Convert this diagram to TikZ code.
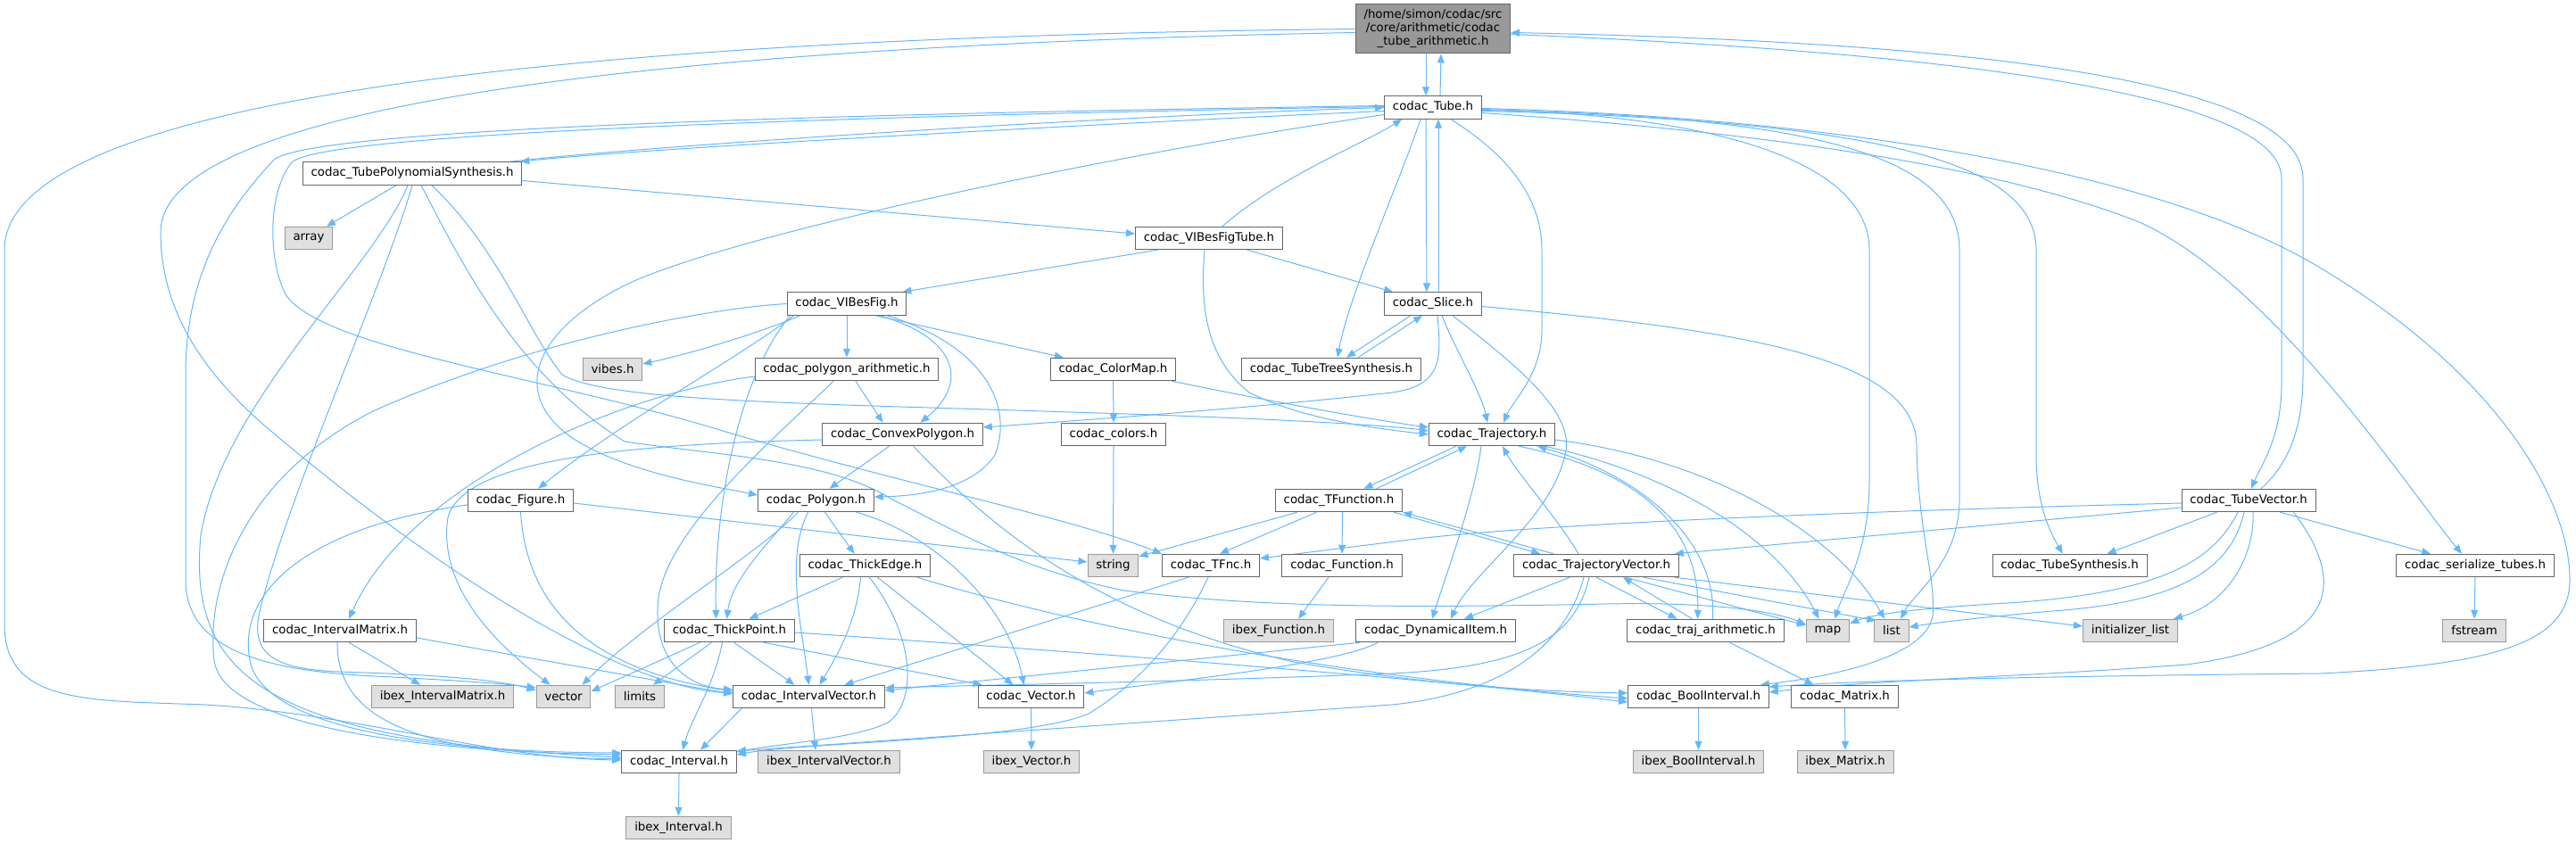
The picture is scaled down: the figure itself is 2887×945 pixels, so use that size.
\documentclass[tikz,border=0pt]{standalone}
\usepackage{fontspec}
\setmainfont{DejaVu Sans}
\usetikzlibrary{calc,arrows.meta}
\definecolor{edgeblue}{HTML}{63B8FF}
\definecolor{nodeborder}{HTML}{666666}
\definecolor{extfill}{HTML}{E0E0E0}
\definecolor{extborder}{HTML}{999999}
\definecolor{mainfill}{HTML}{999999}
\pgfdeclarelayer{background}
\pgfsetlayers{background,main}
\begin{document}
\begin{tikzpicture}[x=0.75pt,y=-0.75pt,
  box/.style={draw=nodeborder,fill=white,line width=0.75pt,minimum height=19.1pt,inner xsep=7pt,inner ysep=2pt,font=\fontsize{10}{12}\selectfont},
  ext/.style={box,draw=extborder,fill=extfill},
  mainbox/.style={draw=nodeborder,fill=mainfill,line width=0.75pt,align=center,minimum width=129.75pt,minimum height=41.25pt,inner sep=2pt,font=\fontsize{10}{11.25}\selectfont},
  e/.style={draw=edgeblue,line width=0.75pt,-{Triangle[length=7.5pt,width=6pt]}}]
\useasboundingbox (0,0) rectangle (2887,945);
\node[mainbox] (M) at (1606,32.5) {/home/simon/codac/src\\/core/arithmetic/codac\\\_tube\_arithmetic.h};
\node[box] (T) at (1606,120.5) {codac\_Tube.h};
\node[box] (TP) at (462,194.5) {codac\_TubePolynomialSynthesis.h};
\node[ext] (arr) at (346,267) {array};
\node[box] (VFT) at (1355,267) {codac\_VIBesFigTube.h};
\node[box] (VF) at (949,340.5) {codac\_VIBesFig.h};
\node[box] (SL) at (1606,340.5) {codac\_Slice.h};
\node[ext] (vib) at (686.5,414) {vibes.h};
\node[box] (PA) at (949,414) {codac\_polygon\_arithmetic.h};
\node[box] (CM) at (1247.5,414) {codac\_ColorMap.h};
\node[box] (TTS) at (1492,414) {codac\_TubeTreeSynthesis.h};
\node[box] (CP) at (1011.5,487) {codac\_ConvexPolygon.h};
\node[box] (COL) at (1248,487) {codac\_colors.h};
\node[box] (TRJ) at (1672,487) {codac\_Trajectory.h};
\node[box] (FIG) at (583.5,561) {codac\_Figure.h};
\node[box] (POL) at (914.5,561) {codac\_Polygon.h};
\node[box] (TF) at (1500.5,561) {codac\_TFunction.h};
\node[box] (TV) at (2520,561) {codac\_TubeVector.h};
\node[box] (TE) at (969.5,634) {codac\_ThickEdge.h};
\node[ext] (str) at (1247.5,634) {string};
\node[box] (TFNC) at (1357,634) {codac\_TFnc.h};
\node[box] (FUN) at (1504,634) {codac\_Function.h};
\node[box] (TRV) at (1789,634) {codac\_TrajectoryVector.h};
\node[box] (TS) at (2319.5,634) {codac\_TubeSynthesis.h};
\node[box] (SER) at (2774,634) {codac\_serialize\_tubes.h};
\node[box] (IM) at (381,707) {codac\_IntervalMatrix.h};
\node[box] (TPT) at (817.5,707) {codac\_ThickPoint.h};
\node[ext] (ibF) at (1433,707) {ibex\_Function.h};
\node[box] (DI) at (1609,707) {codac\_DynamicalItem.h};
\node[box] (TA) at (1911.5,707) {codac\_traj\_arithmetic.h};
\node[ext] (map) at (2048.5,707) {map};
\node[ext] (list) at (2120,707) {list};
\node[ext] (IL) at (2387.5,707) {initializer\_list};
\node[ext] (fst) at (2773,707) {fstream};
\node[ext] (ibIM) at (496,781) {ibex\_IntervalMatrix.h};
\node[ext] (vec) at (631.5,781) {vector};
\node[ext] (lim) at (717,781) {limits};
\node[box] (IV) at (906.5,781) {codac\_IntervalVector.h};
\node[box] (VEC) at (1155.5,781) {codac\_Vector.h};
\node[box] (BI) at (1903.5,781) {codac\_BoolInterval.h};
\node[box] (MAT) at (2067.5,781) {codac\_Matrix.h};
\node[box] (INT) at (761,854) {codac\_Interval.h};
\node[ext] (ibIV) at (929,854) {ibex\_IntervalVector.h};
\node[ext] (ibV) at (1156,854) {ibex\_Vector.h};
\node[ext] (ibBI) at (1903.5,854) {ibex\_BoolInterval.h};
\node[ext] (ibM) at (2068,854) {ibex\_Matrix.h};
\node[ext] (ibI) at (760.5,928) {ibex\_Interval.h};
\begin{pgfonlayer}{background}
% main
\draw[e] ($(M.south)+(-8,0)$) -- ($(T.north)+(-8,0)$);
\draw[e] ($(T.north)+(8,0)$) -- ($(M.south)+(9,0)$);
\draw[e] ($(M.east)+(0,6)$) .. controls (2100,55) and (2557,95) .. (2557,200) -- (2557,430) .. controls (2557,490) and (2535,520) .. ($(TV.north)+(3,0)$);
\draw[e] ($(TV.north)+(14,0)$) .. controls (2565,520) and (2581,480) .. (2581,420) -- (2581,200) .. controls (2581,75) and (2100,45) .. ($(M.east)+(0,4)$);
\draw[e] (M.west) .. controls (800,40) and (5,90) .. (5,280) -- (5,700) .. controls (5,790) and (100,785) .. (230,790) .. controls (400,800) and (550,850) .. ($(INT.west)+(0,-2)$);
\draw[e] ($(M.west)+(0,4)$) .. controls (800,50) and (180,110) .. (180,260) .. controls (180,350) and (230,420) .. (300,480) .. controls (500,650) and (700,770) .. ($(IV.west)+(0,-4)$);
% Tube
\draw[e] ($(T.south)+(-8,0)$) -- ($(SL.north)+(-7,0)$);
\draw[e] ($(SL.north)+(6,0)$) -- ($(T.south)+(6,0)$);
\draw[e] ($(T.west)+(0,4)$) .. controls (1200,140) and (700,168) .. ($(TP.north east)+(-2,0)$);
\draw[e] ($(TP.north east)+(-14,0)$) .. controls (700,166) and (1200,132) .. (T.west);
\draw[e] ($(T.west)+(0,-2)$) .. controls (900,128) and (340,145) .. (306,180) .. controls (260,230) and (208,300) .. (208,420) -- (208,650) .. controls (208,730) and (300,752) .. (420,758) .. controls (500,762) and (560,766) .. ($(vec.north west)+(0,3)$);
\draw[e] ($(T.west)+(0,-1)$) .. controls (900,131) and (360,150) .. (327,182) .. controls (300,215) and (300,290) .. (320,330) .. controls (360,390) and (600,420) .. (800,480) .. controls (1000,540) and (1200,580) .. (TFNC.north west);
\draw[e] ($(T.south)+(-14,0)$) .. controls (1570,200) and (1512,330) .. ($(TTS.north)+(7,0)$);
\draw[e] ($(T.south east)+(-35,0)$) .. controls (1700,180) and (1728,230) .. (1728,280) -- (1728,370) .. controls (1728,420) and (1695,450) .. ($(TRJ.north)+(13,0)$);
\draw[e] ($(T.east)+(0,2)$) .. controls (1950,130) and (2095,190) .. (2095,280) -- (2095,540) .. controls (2095,620) and (2065,665) .. ($(map.north)+(8,0)$);
\draw[e] ($(T.east)+(0,3)$) .. controls (2050,130) and (2196,180) .. (2196,280) -- (2196,560) .. controls (2196,630) and (2145,665) .. ($(list.north)+(10,0)$);
\draw[e] ($(T.east)+(0,4)$) .. controls (2100,135) and (2282,180) .. (2282,280) -- (2282,510) .. controls (2282,570) and (2300,600) .. ($(TS.north)+(-8,0)$);
\draw[e] ($(T.east)+(0,6)$) .. controls (2000,150) and (2250,190) .. (2400,250) .. controls (2550,320) and (2700,550) .. ($(SER.north)+(-15,0)$);
\draw[e] ($(T.east)+(0,1)$) .. controls (2000,130) and (2400,180) .. (2600,300) .. controls (2800,420) and (2880,560) .. (2880,650) .. controls (2880,720) and (2800,745) .. (2600,755) .. controls (2300,758) and (2100,762) .. ($(BI.east)+(0,-11)$);
\draw[e] ($(T.west)+(0,8)$) .. controls (1200,180) and (800,270) .. (700,320) .. controls (600,370) and (570,440) .. (640,490) .. controls (700,530) and (800,545) .. ($(POL.west)+(0,-6)$);
% VIBesFigTube
\draw[e] ($(VFT.north)+(15,0)$) .. controls (1430,200) and (1530,160) .. ($(T.south west)+(20,0)$);
\draw[e] ($(VFT.south west)+(25,0)$) -- ($(VF.north east)+(-5,0)$);
\draw[e] ($(VFT.south east)+(-40,0)$) -- ($(SL.north west)+(10,0)$);
\draw[e] ($(VFT.south)+(-5,0)$) .. controls (1345,340) and (1350,400) .. (1400,440) .. controls (1460,470) and (1540,480) .. (TRJ.west);
% TubePolynomialSynthesis
\draw[e] ($(TP.east)+(0,8)$) -- ($(VFT.west)+(0,-5)$);
\draw[e] ($(TP.south)+(-18,0)$) -- ($(arr.north)+(20,0)$);
\draw[e] ($(TP.south)+(-5,0)$) .. controls (420,300) and (250,450) .. (225,600) .. controls (210,760) and (300,830) .. ($(INT.west)+(0,-5)$);
\draw[e] (TP.south) .. controls (430,320) and (320,560) .. (290,690) .. controls (282,735) and (310,750) .. (380,753) .. controls (470,756) and (550,760) .. ($(vec.north west)+(0,6)$);
\draw[e] ($(TP.south)+(10,0)$) .. controls (520,300) and (580,420) .. (700,495) .. controls (800,510) and (930,515) .. (1000,560) .. controls (1080,600) and (1150,640) .. (1260,662) .. controls (1400,680) and (1550,682) .. (1800,677) .. controls (1900,675) and (1980,682) .. ($(map.west)+(0,-7)$);
\draw[e] ($(TP.south)+(22,0)$) .. controls (560,280) and (590,370) .. (630,420) .. controls (680,450) and (900,452) .. (1200,462) .. controls (1400,468) and (1550,476) .. ($(TRJ.west)+(0,-4)$);
% VIBesFig
\draw[e] ($(VF.south west)+(15,0)$) .. controls (860,370) and (780,395) .. ($(vib.east)+(0,-6)$);
\draw[e] ($(VF.south west)+(8,0)$) .. controls (830,400) and (700,470) .. ($(FIG.north east)+(-40,0)$);
\draw[e] (VF.south) -- (PA.north);
\draw[e] ($(VF.south east)+(-35,0)$) -- ($(CM.north west)+(15,0)$);
\draw[e] ($(VF.south east)+(-30,0)$) .. controls (1075,380) and (1085,430) .. ($(CP.north)+(20,0)$);
\draw[e] ($(VF.south east)+(-22,0)$) .. controls (1110,390) and (1135,460) .. (1115,510) .. controls (1090,548) and (1030,556) .. ($(POL.east)+(0,-4)$);
\draw[e] ($(VF.south west)+(4,0)$) .. controls (830,420) and (800,560) .. ($(TPT.north)+(-15,0)$);
\draw[e] (VF.west) .. controls (800,345) and (600,380) .. (420,460) .. controls (280,530) and (230,650) .. (240,740) .. controls (250,820) and (500,843) .. ($(INT.west)+(0,-8)$);
% polygon arithmetic, ColorMap, colors
\draw[e] ($(PA.south)+(10,0)$) -- ($(CP.north)+(-22,0)$);
\draw[e] ($(PA.west)+(0,8)$) .. controls (700,440) and (460,540) .. ($(IM.north)+(10,0)$);
\draw[e] ($(PA.south)+(-15,0)$) .. controls (870,490) and (750,590) .. (738,670) .. controls (730,740) and (770,770) .. ($(IV.west)+(0,-8)$);
\draw[e] (CM.south) -- (COL.north);
\draw[e] ($(CM.south east)+(-5,0)$) .. controls (1400,445) and (1520,468) .. ($(TRJ.west)+(0,-8)$);
\draw[e] (COL.south) -- (str.north);
% ConvexPolygon, Polygon
\draw[e] ($(CP.south)+(-15,0)$) -- ($(POL.north)+(15,0)$);
\draw[e] ($(CP.west)+(0,6)$) .. controls (700,498) and (520,515) .. (502,580) .. controls (490,660) and (560,725) .. ($(vec.north)+(-15,0)$);
\draw[e] ($(CP.south)+(12,0)$) .. controls (1100,580) and (1220,690) .. (1450,742) .. controls (1600,768) and (1720,775) .. ($(BI.west)+(0,-4)$);
\draw[e] ($(POL.south)+(-25,0)$) .. controls (860,610) and (820,650) .. ($(TPT.north)+(-3,0)$);
\draw[e] ($(POL.south)+(-20,0)$) .. controls (850,620) and (720,700) .. ($(vec.north east)+(-10,0)$);
\draw[e] ($(POL.south)+(-9,0)$) .. controls (880,625) and (898,700) .. (IV.north);
\draw[e] ($(POL.south)+(10,0)$) -- ($(TE.north)+(-12,0)$);
\draw[e] ($(POL.south east)+(-20,0)$) .. controls (1050,600) and (1130,680) .. ($(VEC.north)+(-8,0)$);
% Figure
\draw[e] ($(FIG.east)+(0,3)$) -- ($(str.west)+(0,-4)$);
\draw[e] ($(FIG.west)+(0,5)$) .. controls (350,590) and (265,660) .. (280,740) .. controls (295,820) and (500,843) .. ($(INT.west)+(0,-10)$);
\draw[e] (FIG.south) .. controls (590,680) and (660,750) .. ($(IV.west)+(0,-6)$);
% ThickEdge
\draw[e] ($(TE.south)+(-25,0)$) -- ($(TPT.north)+(22,0)$);
\draw[e] ($(TE.south)+(-5,0)$) .. controls (960,700) and (935,740) .. ($(IV.north)+(12,0)$);
\draw[e] ($(TE.south)+(14,0)$) -- ($(VEC.north)+(-20,0)$);
\draw[e] ($(TE.south)+(5,0)$) .. controls (1030,720) and (1025,790) .. (995,810) .. controls (960,828) and (870,834) .. ($(INT.east)+(0,-11)$);
\draw[e] ($(TE.south east)+(-15,0)$) .. controls (1200,700) and (1500,760) .. ($(BI.west)+(0,2)$);
% ThickPoint
\draw[e] ($(TPT.south)+(-33,0)$) -- ($(vec.east)+(0,-6)$);
\draw[e] ($(TPT.south)+(-20,0)$) -- ($(lim.north)+(15,0)$);
\draw[e] ($(TPT.south)+(-8,0)$) .. controls (800,770) and (775,805) .. ($(INT.north)+(4,0)$);
\draw[e] ($(TPT.south)+(5,0)$) -- ($(IV.north)+(-16,0)$);
\draw[e] ($(TPT.south east)+(-35,0)$) -- ($(VEC.north west)+(5,0)$);
\draw[e] ($(TPT.east)+(0,2)$) .. controls (1200,730) and (1600,760) .. ($(BI.west)+(0,6)$);
% IntervalMatrix
\draw[e] ($(IM.south)+(10,0)$) -- ($(ibIM.north)+(-25,0)$);
\draw[e] ($(IM.south)+(-3,0)$) .. controls (378,800) and (450,845) .. ($(INT.west)+(0,-3)$);
\draw[e] ($(IM.east)+(0,8)$) -- ($(IV.west)+(0,-3)$);
% Slice, TubeTreeSynthesis
\draw[e] ($(SL.south)+(10,0)$) .. controls (1630,390) and (1660,440) .. ($(TRJ.north)+(-5,0)$);
\draw[e] ($(SL.south)+(-25,0)$) -- ($(TTS.north)+(17,0)$);
\draw[e] ($(TTS.north)+(30,0)$) -- ($(SL.south)+(-12,0)$);
\draw[e] ($(SL.south)+(22,0)$) .. controls (1700,410) and (1762,460) .. (1755,505) .. controls (1742,580) and (1650,640) .. ($(DI.north)+(17,0)$);
\draw[e] ($(SL.east)+(0,3)$) .. controls (1950,370) and (2148,400) .. (2148,500) .. controls (2150,600) and (2170,650) .. (2166,690) .. controls (2160,730) and (2080,755) .. ($(BI.north east)+(-10,0)$);
\draw[e] ($(SL.south)+(5,0)$) .. controls (1615,400) and (1618,432) .. (1560,440) .. controls (1400,458) and (1200,472) .. ($(CP.east)+(0,-8)$);
% Trajectory, TFunction
\draw[e] ($(TRJ.south)+(-40,0)$) -- ($(TF.north)+(28,0)$);
\draw[e] ($(TF.north)+(42,0)$) -- ($(TRJ.south)+(-28,0)$);
\draw[e] ($(TRJ.south)+(-12,0)$) .. controls (1652,560) and (1622,640) .. ($(DI.north)+(-4,0)$);
\draw[e] ($(TRJ.south)+(30,0)$) .. controls (1850,530) and (1905,600) .. ($(TA.north)+(-9,0)$);
\draw[e] ($(TA.north)+(8,0)$) .. controls (1925,600) and (1830,530) .. ($(TRJ.south east)+(-20,0)$);
\draw[e] ($(TRJ.south east)+(-12,0)$) .. controls (1870,530) and (1990,600) .. ($(map.north)+(-10,0)$);
\draw[e] ($(TRJ.east)+(0,6)$) .. controls (1920,515) and (2060,600) .. ($(list.north)+(-8,0)$);
\draw[e] ($(TF.south west)+(25,0)$) -- ($(str.north east)+(0,3)$);
\draw[e] ($(TF.south)+(-25,0)$) -- ($(TFNC.north)+(10,0)$);
\draw[e] ($(TF.south)+(4,0)$) -- (FUN.north);
\draw[e] ($(TF.south east)+(-10,0)$) -- ($(TRV.north west)+(30,0)$);
% TrajectoryVector
\draw[e] ($(TRV.north)+(-20,0)$) .. controls (1745,580) and (1700,530) .. ($(TRJ.south)+(12,0)$);
\draw[e] ($(TRV.north west)+(45,0)$) -- (TF.south east);
\draw[e] ($(TRV.south)+(-30,0)$) -- ($(DI.north)+(32,0)$);
\draw[e] (TRV.south) -- ($(TA.north)+(-32,0)$);
\draw[e] ($(TA.north)+(-15,0)$) -- ($(TRV.south)+(30,0)$);
\draw[e] ($(TRV.south east)+(-60,0)$) -- ($(map.west)+(0,-6)$);
\draw[e] ($(TRV.south east)+(-40,0)$) -- ($(list.north west)+(2,2)$);
\draw[e] ($(TRV.south east)+(-5,0)$) -- ($(IL.west)+(0,-5)$);
\draw[e] ($(TRV.south)+(-8,0)$) .. controls (1765,720) and (1700,748) .. (1560,755) .. controls (1300,765) and (1100,768) .. ($(IV.east)+(0,-10)$);
\draw[e] ($(TRV.south)+(-14,0)$) .. controls (1750,740) and (1660,780) .. (1560,790) -- ($(INT.east)+(0,-12)$);
% DynamicalItem, TFnc, Function
\draw[e] ($(DI.south west)+(5,0)$) -- ($(IV.east)+(0,-7)$);
\draw[e] ($(DI.south west)+(25,0)$) .. controls (1500,745) and (1300,765) .. ($(VEC.east)+(0,-4)$);
\draw[e] ($(TFNC.south west)+(30,0)$) -- ($(IV.north)+(40,0)$);
\draw[e] ($(TFNC.south)+(-3,0)$) .. controls (1320,720) and (1270,770) .. (1220,800) .. controls (1150,830) and (900,832) .. ($(INT.east)+(0,-8)$);
\draw[e] ($(FUN.south)+(-15,0)$) -- ($(ibF.north)+(22,0)$);
% lower rows
\draw[e] ($(IV.south west)+(10,0)$) -- ($(INT.north)+(24,0)$);
\draw[e] ($(IV.south)+(3,0)$) -- ($(ibIV.north)+(-15,0)$);
\draw[e] (VEC.south) -- (ibV.north);
\draw[e] (INT.south) -- (ibI.north);
\draw[e] (BI.south) -- (ibBI.north);
\draw[e] (MAT.south) -- (ibM.north);
\draw[e] ($(TA.south)+(27,0)$) -- ($(MAT.north)+(-35,0)$);
% TubeVector
\draw[e] ($(TV.west)+(0,3)$) .. controls (2000,575) and (1700,590) .. (1580,605) -- ($(TFNC.east)+(0,-8)$);
\draw[e] ($(TV.west)+(0,8)$) -- ($(TRV.north east)+(-5,0)$);
\draw[e] ($(TV.south west)+(40,0)$) -- ($(TS.north)+(42,0)$);
\draw[e] ($(TV.south east)+(-40,0)$) -- ($(SER.north)+(-50,0)$);
\draw[e] ($(TV.south)+(5,0)$) .. controls (2527,620) and (2500,675) .. ($(IL.north east)+(-5,0)$);
\draw[e] ($(TV.south)+(-5,0)$) .. controls (2500,640) and (2440,675) .. (2300,685) .. controls (2220,692) and (2170,698) .. ($(list.east)+(0,-4)$);
\draw[e] ($(TV.south)+(-12,0)$) .. controls (2480,630) and (2420,665) .. (2250,676) .. controls (2150,682) and (2100,688) .. ($(map.east)+(0,-8)$);
\draw[e] ($(TV.south east)+(-25,0)$) .. controls (2620,640) and (2640,720) .. (2450,745) .. controls (2250,760) and (2100,762) .. ($(BI.east)+(0,-5)$);
\draw[e] (SER.south) -- (fst.north);
\end{pgfonlayer}
\end{tikzpicture}
\end{document}
